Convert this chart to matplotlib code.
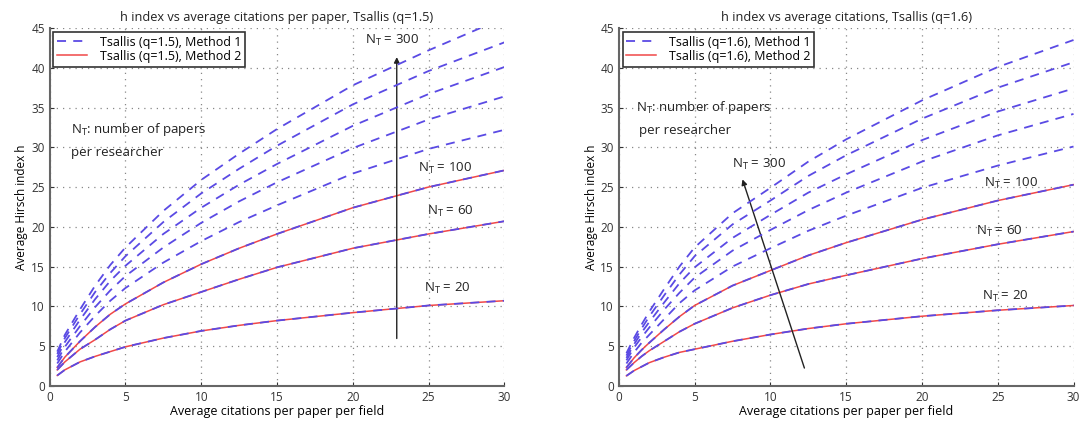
import numpy as np
import matplotlib
matplotlib.use('Agg')
import matplotlib.pyplot as plt

plt.rcParams['font.family'] = ['Open Sans', 'DejaVu Sans']
plt.rcParams['mathtext.default'] = 'regular'

# Average citations per paper per field (x grid where values were read)
cites = [0.5, 1, 1.5, 2, 3, 4, 5, 7.5, 10, 12.5, 15, 20, 25, 30]
n_papers = [20, 60, 100, 140, 180, 220, 260, 300]

# Tsallis q=1.5, method 1 (blue dashed), one row per N_T
h_q15 = [
    [1.3, 2.0, 2.5, 3.0, 3.7, 4.3, 4.9, 6.0, 6.9, 7.6, 8.2, 9.2, 10.1, 10.7],
    [2.0, 3.0, 3.8, 4.6, 5.8, 7.1, 8.2, 10.2, 11.8, 13.4, 14.9, 17.3, 19.1, 20.7],
    [2.3, 3.6, 4.6, 5.6, 7.4, 9.0, 10.3, 13.0, 15.3, 17.3, 19.1, 22.4, 25.0, 27.1],
    [2.8, 4.3, 5.5, 6.7, 8.8, 10.7, 12.3, 15.5, 18.2, 20.6, 22.7, 26.7, 29.8, 32.2],
    [3.2, 4.9, 6.2, 7.5, 9.9, 12.0, 13.8, 17.4, 20.5, 23.2, 25.6, 29.9, 33.5, 36.4],
    [3.6, 5.5, 6.9, 8.3, 10.9, 13.2, 15.1, 19.1, 22.4, 25.3, 27.9, 32.7, 36.7, 40.1],
    [4.0, 6.0, 7.5, 9.0, 11.8, 14.2, 16.3, 20.6, 24.2, 27.3, 30.2, 35.4, 39.6, 43.2],
    [4.3, 6.4, 8.0, 9.6, 12.6, 15.2, 17.4, 22.0, 25.9, 29.2, 32.3, 37.8, 42.2, 46.3],
]
# Tsallis q=1.6, method 1
h_q16 = [
    [1.25, 1.9, 2.4, 2.9, 3.6, 4.2, 4.6, 5.6, 6.45, 7.2, 7.8, 8.75, 9.5, 10.1],
    [2.0, 2.9, 3.7, 4.4, 5.6, 6.8, 7.8, 9.8, 11.4, 12.8, 13.9, 16.0, 17.8, 19.4],
    [2.3, 3.5, 4.5, 5.4, 7.1, 8.7, 10.1, 12.6, 14.5, 16.4, 18.0, 20.9, 23.3, 25.3],
    [2.8, 4.2, 5.4, 6.4, 8.4, 10.4, 12.0, 15.0, 17.3, 19.5, 21.4, 24.9, 27.7, 30.1],
    [3.2, 4.8, 6.1, 7.3, 9.6, 11.7, 13.6, 17.0, 19.6, 22.1, 24.3, 28.2, 31.5, 34.2],
    [3.5, 5.2, 6.7, 8.0, 10.5, 12.9, 14.9, 18.6, 21.5, 24.3, 26.6, 30.9, 34.5, 37.4],
    [3.8, 5.6, 7.2, 8.7, 11.4, 14.0, 16.3, 20.3, 23.3, 26.4, 29.0, 33.6, 37.5, 40.7],
    [4.1, 6.0, 7.7, 9.3, 12.2, 15.0, 17.4, 21.7, 24.9, 28.2, 31.0, 35.9, 40.1, 43.5],
]
# method 2 (red solid) only for N_T = 20, 60, 100: nearly identical to method 1
m2_rows = [0, 1, 2]

titles = ['h index vs average citations per paper, Tsallis (q=1.5)',
          'h index vs average citations, Tsallis (q=1.6)']
qs = ['1.5', '1.6']

blue = '#5a4ae4'
red = '#f04848'

fig = plt.figure(figsize=(10.8, 4.32), dpi=100)
ax1 = fig.add_axes([0.046, 0.107, 0.421, 0.828])
ax2 = fig.add_axes([0.573, 0.107, 0.421, 0.828])


def draw_panel(ax, h, q, title):
    x = np.array(cites)
    for i in m2_rows:
        ax.plot(x, h[i], color=red, lw=1.1, zorder=3)
    for i, row in enumerate(h):
        ax.plot(x, row, color=blue, lw=1.3, dashes=(5, 4), zorder=4)
    # legend proxies
    l1, = ax.plot([], [], color=blue, lw=1.3, dashes=(5, 4))
    l2, = ax.plot([], [], color=red, lw=1.1)
    leg = ax.legend([l1, l2], ['Tsallis (q=%s), Method 1' % q, 'Tsallis (q=%s), Method 2' % q],
                    loc='upper left', fontsize=9, fancybox=False, framealpha=1,
                    edgecolor='#333333', borderaxespad=0.3, handlelength=2.4,
                    labelspacing=0.1, borderpad=0.3, handletextpad=1.0)
    leg.get_frame().set_linewidth(1.2)
    ax.set_xlim(0, 30)
    ax.set_ylim(0, 45)
    ax.set_xticks(range(0, 31, 5))
    ax.set_yticks(range(0, 46, 5))
    ax.grid(True, linestyle=(0, (1, 4)), color='#888888', lw=0.9)
    ax.tick_params(direction='in', labelsize=8.5, colors='#333333', length=3)
    for s in ['top', 'right']:
        ax.spines[s].set_visible(False)
    for s in ['left', 'bottom']:
        ax.spines[s].set_color('#666666')
        ax.spines[s].set_linewidth(1.5)
    ax.set_title(title, fontsize=9.2, color='#222222', pad=5)
    ax.set_xlabel('Average citations per paper per field', fontsize=9, labelpad=1)
    ax.set_ylabel('Average Hirsch index h', fontsize=8.5, labelpad=2)


draw_panel(ax1, h_q15, qs[0], titles[0])
draw_panel(ax2, h_q16, qs[1], titles[1])

txt = dict(fontsize=9.5, color='#222222')
# left panel annotations
ax1.annotate('', xy=(22.9, 41.7), xytext=(22.9, 5.6),
             arrowprops=dict(arrowstyle='-|>', color='#222222', lw=1.0, mutation_scale=8))
ax1.text(22.6, 43.4, '$\\mathregular{N_T}$ = 300', ha='center', va='center', **txt)
ax1.text(26.1, 27.4, '$\\mathregular{N_T}$ = 100', ha='center', va='center', **txt)
ax1.text(26.4, 21.9, '$\\mathregular{N_T}$ = 60', ha='center', va='center', **txt)
ax1.text(26.2, 12.3, '$\\mathregular{N_T}$ = 20', ha='center', va='center', **txt)
ax1.text(1.4, 32.3, '$\\mathregular{N_T}$: number of papers', ha='left', va='center', **txt)
ax1.text(1.4, 29.3, 'per researcher', ha='left', va='center', **txt)

# right panel annotations
ax2.annotate('', xy=(8.1, 26.3), xytext=(12.3, 1.9),
             arrowprops=dict(arrowstyle='-|>', color='#222222', lw=1.0, mutation_scale=8))
ax2.text(9.25, 27.8, '$\\mathregular{N_T}$ = 300', ha='center', va='center', **txt)
ax2.text(25.9, 25.4, '$\\mathregular{N_T}$ = 100', ha='center', va='center', **txt)
ax2.text(25.1, 19.4, '$\\mathregular{N_T}$ = 60', ha='center', va='center', **txt)
ax2.text(25.5, 11.25, '$\\mathregular{N_T}$ = 20', ha='center', va='center', **txt)
ax2.text(1.1, 35.0, '$\\mathregular{N_T}$: number of papers', ha='left', va='center', **txt)
ax2.text(1.3, 32.1, 'per researcher', ha='left', va='center', **txt)

fig.savefig('out.png', dpi=100)
